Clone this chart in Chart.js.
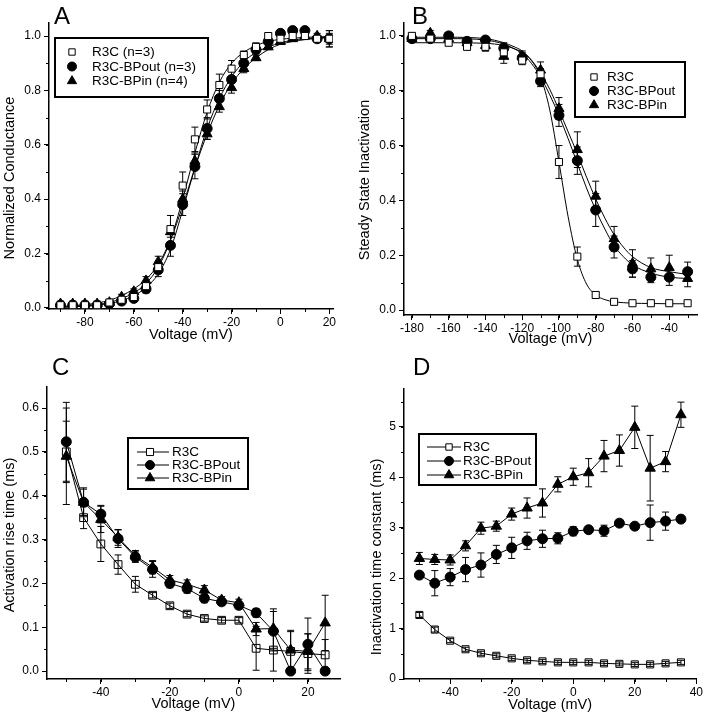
<!DOCTYPE html>
<html>
<head>
<meta charset="utf-8">
<script src="https://cdn.jsdelivr.net/npm/chart.js@4"></script>
<style>
  body { margin: 0; background: #fff; width: 704px; height: 720px; position: relative; overflow: hidden; font-family: "Liberation Sans", Arial, sans-serif; }
  canvas { position: absolute; }
  .letter { position: absolute; font-size: 24px; line-height: 1; color: #000; z-index: 2; }
</style>
</head>
<body>
<canvas id="chartA" width="352" height="360" style="left:0;top:0"></canvas>
<canvas id="chartB" width="352" height="360" style="left:352px;top:0"></canvas>
<canvas id="chartC" width="352" height="380" style="left:0;top:340px"></canvas>
<canvas id="chartD" width="352" height="380" style="left:352px;top:340px"></canvas>
<div class="letter" style="left:54px;top:4px">A</div>
<div class="letter" style="left:412px;top:4px">B</div>
<div class="letter" style="left:52px;top:355px">C</div>
<div class="letter" style="left:413px;top:355px">D</div>
<script>
// ---- Panel A: activation (normalized conductance) ----
const voltsA = [-90,-85,-80,-75,-70,-65,-60,-55,-50,-45,-40,-35,-30,-25,-20,-15,-10,-5,0,5,10,15,20];
const gA_R3C = [0.01,0.01,0.01,0.01,0.02,0.03,0.04,0.08,0.15,0.29,0.45,0.62,0.73,0.82,0.88,0.93,0.96,1.0,0.99,1.0,1.0,0.99,0.99];
const gA_out = [0.01,0.01,0.01,0.01,0.015,0.025,0.035,0.07,0.14,0.23,0.38,0.52,0.66,0.77,0.84,0.90,0.95,0.98,1.01,1.02,1.02,0.99,0.99];
const gA_in  = [0.015,0.015,0.015,0.015,0.02,0.04,0.06,0.10,0.17,0.28,0.40,0.54,0.64,0.74,0.81,0.88,0.92,0.96,0.98,0.99,1.0,1.0,0.99];
const errA_R3C = [0.01,0.01,0.01,0.01,0.01,0.01,0.01,0.015,0.02,0.05,0.05,0.045,0.035,0.04,0.03,0.015,0.015,0.01,0.01,0.01,0.01,0.01,0.03];
const errA_out = [0.01,0.01,0.01,0.01,0.01,0.01,0.01,0.015,0.025,0.04,0.04,0.045,0.04,0.03,0.03,0.02,0.015,0.01,0.01,0.01,0.01,0.01,0.03];
const errA_in  = [0.01,0.01,0.01,0.01,0.01,0.01,0.01,0.015,0.02,0.02,0.03,0.03,0.02,0.02,0.02,0.015,0.01,0.01,0.01,0.01,0.01,0.01,0.02];
// fitted curves
const fitA_R3C = [0.003,0.005,0.008,0.013,0.02,0.035,0.055,0.09,0.15,0.25,0.40,0.57,0.72,0.83,0.90,0.94,0.965,0.98,0.988,0.992,0.995,0.997,0.998];
const fitA_out = [0.002,0.004,0.006,0.01,0.016,0.027,0.045,0.075,0.125,0.215,0.36,0.515,0.66,0.77,0.85,0.905,0.94,0.96,0.975,0.985,0.99,0.993,0.995];
const fitA_in  = [0.005,0.008,0.012,0.018,0.028,0.045,0.07,0.105,0.16,0.25,0.375,0.515,0.64,0.745,0.825,0.88,0.92,0.95,0.97,0.98,0.987,0.992,0.995];

// ---- Panel B: steady state inactivation ----
const voltsB = [-180,-170,-160,-150,-140,-130,-120,-110,-100,-90,-80,-70,-60,-50,-40,-30];
const hB_R3C = [1.0,0.99,0.975,0.96,0.96,0.94,0.91,0.86,0.54,0.195,0.055,0.03,0.025,0.025,0.025,0.025];
const hB_out = [0.99,0.99,1.0,0.98,0.985,0.955,0.92,0.835,0.71,0.545,0.365,0.23,0.15,0.12,0.12,0.14];
const hB_in  = [0.99,1.01,0.99,0.975,0.965,0.925,0.925,0.875,0.735,0.585,0.415,0.26,0.17,0.15,0.155,0.115];
const errB_R3C = [0.01,0.01,0.01,0.01,0.015,0.02,0.015,0.02,0.06,0.035,0.01,0.005,0.005,0.005,0.005,0.005];
const errB_out = [0.01,0.01,0.01,0.01,0.01,0.02,0.02,0.02,0.04,0.05,0.06,0.04,0.03,0.02,0.03,0.035];
const errB_in  = [0.01,0.01,0.01,0.01,0.02,0.025,0.02,0.03,0.04,0.065,0.055,0.045,0.05,0.04,0.045,0.03];
const fitVoltsB = [-180,-160,-140,-130,-125,-120,-115,-110,-105,-100,-95,-90,-85,-80,-75,-70,-65,-60,-50,-40,-30];
const fitB_R3C = [0.975,0.975,0.973,0.965,0.955,0.94,0.91,0.85,0.73,0.54,0.34,0.185,0.095,0.055,0.038,0.03,0.027,0.025,0.024,0.023,0.023];
const fitB_out = [0.99,0.99,0.985,0.97,0.955,0.935,0.9,0.85,0.785,0.71,0.625,0.535,0.445,0.365,0.295,0.235,0.195,0.165,0.135,0.12,0.115];
const fitB_in  = [0.995,0.995,0.99,0.975,0.962,0.945,0.912,0.865,0.805,0.73,0.65,0.57,0.485,0.405,0.335,0.275,0.23,0.195,0.155,0.14,0.13];

// ---- Panel C: activation rise time ----
const voltsC = [-50,-45,-40,-35,-30,-25,-20,-15,-10,-5,0,5,10,15,20,25];
const riseC_R3C = [0.50,0.35,0.29,0.243,0.198,0.173,0.149,0.13,0.12,0.116,0.116,0.052,0.048,0.045,0.04,0.037];
const riseC_out = [0.523,0.385,0.358,0.302,0.26,0.232,0.20,0.188,0.166,0.158,0.150,0.133,0.091,0.0,0.061,0.0];
const riseC_in  = [0.49,0.385,0.346,0.305,0.263,0.237,0.208,0.198,0.185,0.162,0.156,0.096,0.097,0.048,0.045,0.11];
const errC_R3C = [0.07,0.025,0.04,0.022,0.018,0.006,0.006,0.006,0.006,0.006,0.006,0.05,0.048,0.045,0.045,0.035];
const errC_out = [0.09,0.033,0.02,0.02,0.012,0.018,0.01,0.01,0.01,0.008,0.008,0.01,0.045,0,0.06,0];
const errC_in  = [0.11,0.03,0.03,0.018,0.012,0.015,0.01,0.01,0.01,0.008,0.008,0.015,0.045,0.045,0.04,0.063];

// ---- Panel D: inactivation time constant ----
const voltsD = [-50,-45,-40,-35,-30,-25,-20,-15,-10,-5,0,5,10,15,20,25,30,35];
const tauD_R3C = [1.27,0.98,0.76,0.59,0.51,0.46,0.41,0.37,0.35,0.33,0.33,0.33,0.31,0.30,0.29,0.29,0.31,0.33];
const tauD_out = [2.06,1.90,2.02,2.17,2.26,2.47,2.60,2.74,2.78,2.79,2.93,2.96,2.94,3.09,3.03,3.10,3.13,3.17];
const tauD_in  = [2.39,2.37,2.36,2.64,2.99,3.03,3.27,3.39,3.49,3.86,4.01,4.09,4.42,4.53,4.99,4.18,4.31,5.24];
const errD_R3C = [0.05,0.05,0.04,0.04,0.04,0.04,0.04,0.04,0.04,0.04,0.04,0.04,0.04,0.04,0.04,0.04,0.04,0.04];
const errD_out = [0.05,0.25,0.17,0.24,0.24,0.18,0.21,0.17,0.17,0.11,0.09,0.05,0.11,0.05,0.05,0.35,0.18,0.06];
const errD_in  = [0.12,0.1,0.1,0.1,0.12,0.1,0.12,0.2,0.28,0.15,0.17,0.28,0.31,0.31,0.42,0.65,0.2,0.25];

const FONT = '"Liberation Sans", Arial, sans-serif';
Chart.defaults.font.family = FONT;
Chart.defaults.color = '#000';
Chart.defaults.animation = false;

function pts(xs, ys) { return xs.map((x, i) => ({ x, y: ys[i] })); }

// vertical error bars, drawn under the markers
const errorBars = {
  id: 'errorBars',
  beforeDatasetsDraw(chart) {
    const ctx = chart.ctx, yScale = chart.scales.y;
    chart.data.datasets.forEach((ds, i) => {
      if (!ds.errors) return;
      const meta = chart.getDatasetMeta(i);
      ctx.save();
      ctx.strokeStyle = '#000';
      ctx.lineWidth = 1;
      ctx.beginPath();
      meta.data.forEach((pt, j) => {
        const e = ds.errors[j];
        if (!e) return;
        const v = ds.data[j].y;
        const t = yScale.getPixelForValue(v + e), b = yScale.getPixelForValue(v - e);
        ctx.moveTo(pt.x, t); ctx.lineTo(pt.x, b);
        ctx.moveTo(pt.x - 3.5, t); ctx.lineTo(pt.x + 3.5, t);
        ctx.moveTo(pt.x - 3.5, b); ctx.lineTo(pt.x + 3.5, b);
      });
      ctx.stroke();
      ctx.restore();
    });
  }
};

const minorTicks = {
  id: 'minorTicks',
  afterDraw(chart, args, o) {
    if (!o.x) return;
    const { ctx, chartArea: a, scales: { x, y } } = chart;
    ctx.save();
    ctx.strokeStyle = '#000';
    ctx.lineWidth = 1;
    ctx.beginPath();
    for (let k = Math.ceil(x.min / o.x); k * o.x <= x.max; k++) {
      const px = Math.round(x.getPixelForValue(k * o.x)) + 0.5;
      ctx.moveTo(px, a.bottom); ctx.lineTo(px, a.bottom + 3);
    }
    for (let k = Math.ceil(y.min / o.y); k * o.y <= y.max; k++) {
      const py = Math.round(y.getPixelForValue(k * o.y)) + 0.5;
      ctx.moveTo(a.left, py); ctx.lineTo(a.left - 3, py);
    }
    ctx.stroke();
    ctx.restore();
  }
};

// y axis title, placed where the original sits (not always centred on the axis)
const yTitle = {
  id: 'yTitle',
  afterDraw(chart, args, o) {
    if (!o.text) return;
    const ctx = chart.ctx;
    ctx.save();
    ctx.translate(o.x, o.y);
    ctx.rotate(-Math.PI / 2);
    ctx.font = '14.5px ' + FONT;
    ctx.fillStyle = '#000';
    ctx.textAlign = 'center';
    ctx.textBaseline = 'middle';
    ctx.fillText(o.text, 0, 0);
    ctx.restore();
  }
};

// boxed legend sitting inside the plot
const boxLegend = {
  id: 'boxLegend',
  afterDraw(chart, args, o) {
    if (!o.w) return;
    const ctx = chart.ctx;
    ctx.save();
    ctx.fillStyle = '#fff';
    ctx.fillRect(o.x, o.y, o.w, o.h);
    ctx.strokeStyle = '#000';
    ctx.lineWidth = 2;
    ctx.strokeRect(o.x, o.y, o.w, o.h);
    const items = chart.data.datasets.filter(d => d.legendLabel);
    items.forEach((ds, i) => {
      const cy = o.y + o.first + i * o.row;
      if (o.line) {
        ctx.lineWidth = 1;
        ctx.beginPath();
        ctx.moveTo(o.x + o.line[0], cy); ctx.lineTo(o.x + o.line[1], cy);
        ctx.stroke();
      }
      ctx.fillStyle = ds.pointBackgroundColor === 'transparent' ? '#fff' : ds.pointBackgroundColor;
      ctx.strokeStyle = '#000';
      ctx.lineWidth = 1;
      Chart.helpers.drawPoint(ctx, { pointStyle: ds.pointStyle, radius: ds.pointRadius - 0.5, borderWidth: 1, rotation: 0 }, o.x + o.mx, cy);
      ctx.fillStyle = '#000';
      ctx.font = '13.5px ' + FONT;
      ctx.textBaseline = 'middle';
      ctx.fillText(ds.legendLabel, o.x + o.tx, cy + 0.5);
    });
    ctx.restore();
  }
};

function markers(label, xs, ys, errs, style, r, fill, joined) {
  return {
    label, legendLabel: label, data: pts(xs, ys), errors: errs,
    pointStyle: style, pointRadius: r, pointBackgroundColor: fill,
    pointBorderColor: '#000', pointBorderWidth: 1,
    borderColor: '#000', borderWidth: 1, showLine: joined, tension: 0, order: 0
  };
}
function fitLine(xs, ys) {
  return { data: pts(xs, ys), pointRadius: 0, borderColor: '#000', borderWidth: 1,
    cubicInterpolationMode: 'monotone', fill: false, order: 1 };
}

function makeChart(id, datasets, s) {
  return new Chart(document.getElementById(id), {
    type: 'line',
    data: { datasets },
    options: {
      responsive: false,
      layout: { padding: { top: s.top, right: s.right, left: 0, bottom: 0 } },
      plugins: { legend: { display: false }, tooltip: { enabled: false },
        minorTicks: { x: s.xminor, y: s.yminor }, boxLegend: s.legend, yTitle: s.ytitle },
      scales: {
        x: {
          type: 'linear', min: s.xmin, max: s.xmax,
          border: { color: '#000', width: 1.5 },
          grid: { drawOnChartArea: false, drawTicks: true, tickLength: 5, color: '#000' },
          ticks: { stepSize: s.xstep, includeBounds: false, autoSkip: false, maxRotation: 0, padding: 1,
            font: { size: 12 }, callback: v => String(v) },
          title: { display: true, text: 'Voltage (mV)', font: { size: 14.5 }, padding: { top: 0, bottom: s.xtpad } },
          afterFit: sc => { sc.height = s.xh; }
        },
        y: {
          type: 'linear', min: s.ymin, max: s.ymax,
          border: { color: '#000', width: 1.5 },
          grid: { drawOnChartArea: false, drawTicks: true, tickLength: 5, color: '#000' },
          ticks: { stepSize: s.ystep, includeBounds: false, autoSkip: false, padding: 3,
            font: { size: 12 }, callback: v => v.toFixed(s.ydec) },
          afterFit: sc => { sc.width = s.yw; }
        }
      }
    },
    plugins: [errorBars, minorTicks, boxLegend, yTitle]
  });
}

makeChart('chartA', [
  markers('R3C (n=3)', voltsA, gA_R3C, errA_R3C, 'rect', 5, '#fff', false),
  markers('R3C-BPout (n=3)', voltsA, gA_out, errA_out, 'circle', 5, '#000', false),
  markers('R3C-BPin (n=4)', voltsA, gA_in, errA_in, 'triangle', 5.8, '#000', false),
  fitLine(voltsA, fitA_R3C), fitLine(voltsA, fitA_out), fitLine(voltsA, fitA_in)
], { top: 23, right: 19, xmin: -94.7, xmax: 21.5, xstep: 20, xminor: 10, xh: 51, xtpad: 16,
     ymin: -0.004, ymax: 1.048, ystep: 0.2, yminor: 0.1, ydec: 1, yw: 49,
     ytitle: { text: 'Normalized Conductance', x: 9.5, y: 178 },
     legend: { x: 55, y: 38, w: 153, h: 59, first: 14, row: 14.5, mx: 17, tx: 37 } });

makeChart('chartB', [
  markers('R3C', voltsB, hB_R3C, errB_R3C, 'rect', 5, '#fff', false),
  markers('R3C-BPout', voltsB, hB_out, errB_out, 'circle', 5, '#000', false),
  markers('R3C-BPin', voltsB, hB_in, errB_in, 'triangle', 5.8, '#000', false),
  fitLine(fitVoltsB, fitB_R3C), fitLine(fitVoltsB, fitB_out), fitLine(fitVoltsB, fitB_in)
], { top: 23, right: 7, xmin: -184.3, xmax: -24.9, xstep: 20, xminor: 10, xh: 45, xtpad: 12,
     ymin: -0.018, ymax: 1.047, ystep: 0.2, yminor: 0.1, ydec: 1, yw: 52,
     ytitle: { text: 'Steady State Inactivation', x: 12.5, y: 180 },
     legend: { x: 223, y: 62, w: 110, h: 55, first: 15, row: 14, mx: 19, tx: 32 } });

makeChart('chartC', [
  markers('R3C', voltsC, riseC_R3C, errC_R3C, 'rect', 5.5, 'transparent', true),
  markers('R3C-BPout', voltsC, riseC_out, errC_out, 'circle', 5, '#000', true),
  markers('R3C-BPin', voltsC, riseC_in, errC_in, 'triangle', 6, '#000', true)
], { top: 47, right: 12, xmin: -55.6, xmax: 29.3, xstep: 20, xminor: 10, xh: 41, xtpad: 7,
     ymin: -0.018, ymax: 0.648, ystep: 0.1, yminor: 0.05, ydec: 1, yw: 47,
     ytitle: { text: 'Activation rise time (ms)', x: 10, y: 195 },
     legend: { x: 128, y: 98, w: 120, h: 51, first: 14, row: 13, mx: 22, tx: 44, line: [9, 41] } });

makeChart('chartD', [
  markers('R3C', voltsD, tauD_R3C, errD_R3C, 'rect', 5, 'transparent', true),
  markers('R3C-BPout', voltsD, tauD_out, errD_out, 'circle', 5, '#000', true),
  markers('R3C-BPin', voltsD, tauD_in, errD_in, 'triangle', 6, '#000', true)
], { top: 49, right: 7, xmin: -55, xmax: 40, xstep: 20, xminor: 10, xh: 41, xtpad: 6,
     ymin: 0, ymax: 5.75, ystep: 1, yminor: 0.5, ydec: 0, yw: 52,
     ytitle: { text: 'Inactivation time constant (ms)', x: 25, y: 217 },
     legend: { x: 67, y: 94, w: 117, h: 51, first: 13, row: 14, mx: 30, tx: 44, line: [8, 42] } });
</script>
</body>
</html>
